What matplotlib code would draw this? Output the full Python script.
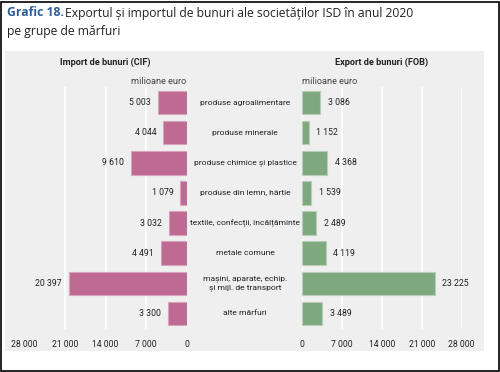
import matplotlib
matplotlib.use('Agg')
import matplotlib.pyplot as plt
from matplotlib.patches import Rectangle
from matplotlib.ticker import FuncFormatter

# date (milioane euro)
categorii = ['produse agroalimentare', 'produse minerale', 'produse chimice și plastice',
             'produse din lemn, hârtie', 'textile, confecții, încălțăminte', 'metale comune',
             'mașini, aparate, echip.\nși mijl. de transport', 'alte mărfuri']
import_cif = [5003, 4044, 9610, 1079, 3032, 4491, 20397, 3300]
export_fob = [3086, 1152, 4368, 1539, 2489, 4119, 23225, 3489]
ticks = [0, 7000, 14000, 21000, 28000]

narrow = ['Liberation Sans Narrow', 'DejaVu Sans Condensed', 'Roboto', 'DejaVu Sans']
titlu = ['Open Sans', 'DejaVu Sans']
roz = '#BF6A93'
verde = '#7EA87F'
gri = '#EFEFEF'
txt = '#222222'

def fmt(v):
    return '{:,}'.format(int(v)).replace(',', ' ')

W, H = 500, 372
fig = plt.figure(figsize=(W/100, H/100), dpi=100)

# cadru negru + panou gri
fig.patches.append(Rectangle((0.5/W, 1.5/H), 1-2/W, 1-3/H, transform=fig.transFigure,
                             fill=False, edgecolor='black', lw=1.2, zorder=-2))
fig.patches.append(Rectangle((5/W, 1-351/H), 479/W, 300/H, transform=fig.transFigure,
                             facecolor=gri, edgecolor='none', zorder=-1))

fig.text(7/W, 1-13/H, 'Grafic 18.', color='#2F5D9B', fontweight='bold', fontsize=8.7,
         family=titlu, va='center')
fig.text(65/W, 1-13/H, 'Exportul și importul de bunuri ale societăților ISD în anul 2020',
         color=txt, fontsize=8.7, family=titlu, va='center')
fig.text(7/W, 1-31/H, 'pe grupe de mărfuri', color=txt, fontsize=8.7,
         family=titlu, va='center')

axL = fig.add_axes([24.5/W, 1-329/H, 162.2/W, 242/H])
axR = fig.add_axes([302.3/W, 1-329/H, 159.4/W, 242/H])

y = list(range(len(categorii)))
axL.barh(y, import_cif, height=0.77, color=roz, edgecolor='#D9A3BD', lw=0.8, zorder=3)
axR.barh(y, export_fob, height=0.77, color=verde, edgecolor='#B5CFB6', lw=0.8, zorder=3)

for ax in (axL, axR):
    ax.set_facecolor('none')
    ax.set_ylim(len(categorii) - 0.47, -0.53)
    ax.set_xticks(ticks)
    ax.xaxis.set_major_formatter(FuncFormatter(lambda v, p: fmt(v)))
    ax.grid(axis='x', color='white', lw=1.2, zorder=0)
    ax.set_axisbelow(True)
    ax.tick_params(length=0, pad=8, labelsize=6.2, labelcolor=txt)
    ax.set_yticks([])
    for s in ax.spines.values():
        s.set_visible(False)
    for lab in ax.get_xticklabels():
        lab.set_family(narrow)

axL.set_xlim(28000, 0)
axR.set_xlim(0, 28000)

for i, v in enumerate(import_cif):
    axL.annotate(fmt(v), (v, i), xytext=(-5, 0), textcoords='offset points',
                 ha='right', va='center', fontsize=6.3, family=narrow, color=txt)
for i, v in enumerate(export_fob):
    axR.annotate(fmt(v), (v, i), xytext=(5.5, 0), textcoords='offset points',
                 ha='left', va='center', fontsize=6.3, family=narrow, color=txt)

for i, c in enumerate(categorii):
    yy = axL.transData.transform((0, i))[1]
    fig.text(245/W, yy/fig.dpi/fig.get_figheight(), c, ha='center', va='center',
             fontsize=6.1, family=narrow, color=txt, linespacing=1.35)

fig.text(105/W, 1-62/H, 'Import de bunuri (CIF)', ha='center', va='center',
         fontsize=6.6, fontweight='bold', family=narrow, color=txt)
fig.text(382/W, 1-62/H, 'Export de bunuri (FOB)', ha='center', va='center',
         fontsize=6.6, fontweight='bold', family=narrow, color=txt)
fig.text(186/W, 1-81/H, 'milioane euro', ha='right', va='center',
         fontsize=6.6, family=narrow, color='#444444')
fig.text(302/W, 1-81/H, 'milioane euro', ha='left', va='center',
         fontsize=6.6, family=narrow, color='#444444')

fig.savefig('out.png', dpi=100)
